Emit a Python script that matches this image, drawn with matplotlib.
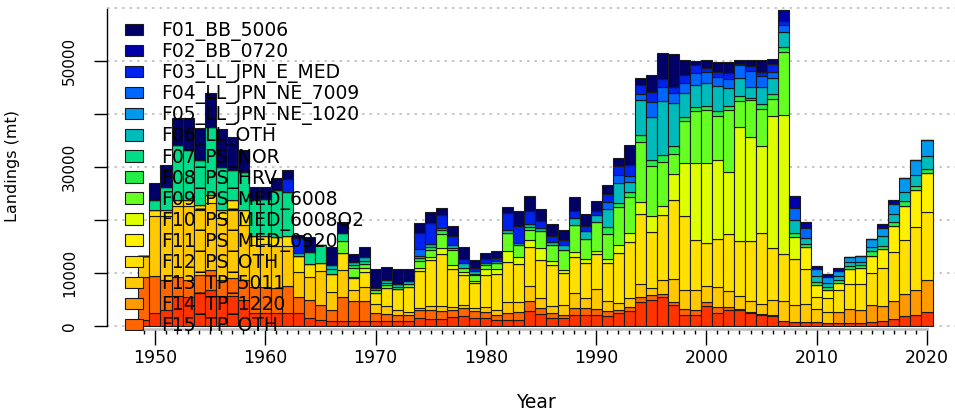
import matplotlib
matplotlib.use("Agg")
import matplotlib.pyplot as plt
from matplotlib.patches import Patch
import numpy as np

years = list(range(1949, 2021))

fleets = ["F01_BB_5006", "F02_BB_0720", "F03_LL_JPN_E_MED", "F04_LL_JPN_NE_7009",
          "F05_LL_JPN_NE_1020", "F06_LL_OTH", "F07_PS_NOR", "F08_PS_HRV",
          "F09_PS_MED_6008", "F10_PS_MED_6008Q2", "F11_PS_MED_0920", "F12_PS_OTH",
          "F13_TP_5011", "F14_TP_1220", "F15_TP_OTH", "F16"]

colors = ["#000066", "#0000AA", "#0022EE", "#0066FF", "#0099EE", "#00BBBB",
          "#00DD88", "#22EE44", "#66FF22", "#DDFF00", "#FFF000", "#FFE000",
          "#FFC800", "#FF9900", "#FF6600", "#FF3300"]

# landings (t) per fleet, 1949 | 1950s | 1960s | ... | 2010s | 2020
f01 = ([0] +
       [3200, 4000, 5100, 6000, 6000, 6400, 7200, 6200, 4200, 2500] +
       [2300, 2300, 1700, 600, 2800, 0, 3500, 2200, 1500, 1900] +
       [3600, 2600, 2800, 2300, 1800, 2100, 1500, 1900, 2300, 1600] +
       [1200, 1300, 1100, 2900, 2800, 2200, 2300, 1900, 2600, 2400] +
       [1900, 1600, 1600, 3800, 1300, 3200, 5000, 6300, 2700, 700] +
       [1400, 2000, 2200, 750, 1100, 2300, 900, 0, 0, 0] +
       [0] * 10 + [0])
f02 = ([0] + [0] * 10 + [0] * 10 + [0] * 10 + [0] * 10 + [0] * 10 +
       [0, 0, 0, 0, 0, 0, 0, 2200, 2200, 1200] +
       [600, 600, 450, 0, 0, 0, 800, 900, 0, 0] + [0])
f03 = ([0] + [0] * 10 +
       [0, 0, 2400, 2800, 0, 0, 0, 0, 0, 0] +
       [0, 0, 0, 0, 3000, 4000, 2300, 1700, 900, 600] +
       [600, 600, 3300, 3100, 2500, 1400, 1100, 1100, 1300, 900] +
       [800, 1600, 1700, 2100, 1600, 1900, 1500, 1100, 1600, 1500] +
       [900, 900, 1100, 300, 1100, 750, 1500, 800, 0, 0] +
       [0] * 10 + [0])
f04 = ([0] + [0] * 10 + [0] * 10 +
       [0, 0, 0, 0, 1300, 0, 0, 0, 0, 0] +
       [0] * 10 +
       [0, 1300, 1500, 1100, 1100, 2800, 2700, 2000, 1900, 2300] +
       [2000, 1800, 1700, 2400, 2900, 2100, 1200, 1300, 2200, 1900] +
       [0] * 10 + [0])
f05 = ([0] + [0] * 10 + [0] * 10 + [0] * 10 + [0] * 10 + [0] * 10 + [0] * 10 +
       [1300, 1000, 1100, 1100, 1100, 1500, 1600, 1900, 2700, 2900] + [3000])
f06 = ([0] + [0] * 10 +
       [0, 0, 0, 600, 0, 0, 700, 0, 600, 600] +
       [500, 500, 600, 600, 450, 500, 500, 400, 800, 400] +
       [0, 500, 500, 400, 500, 500, 600, 900, 1300, 1400] +
       [1300, 3500, 3600, 1900, 6700, 8200, 10100, 8100, 4500, 4100] +
       [4300, 4700, 3300, 3400, 2100, 3100, 3000, 2800, 2500, 1100] +
       [1100, 900, 750, 600, 600, 800, 1800, 1500, 1700, 1900] + [2500])
f07 = ([0] +
       [1900, 4500, 10400, 9400, 8500, 12800, 8100, 5700, 7200, 6900] +
       [7000, 8900, 8400, 0, 2300, 3400, 1000, 1500, 0, 600] +
       [0, 400, 0, 0, 0, 0, 0, 0, 0, 0] +
       [0] * 10 + [0] * 10 + [0] * 10 + [0] * 10 + [0])
f08 = ([0] + [0] * 10 +
       [0, 0, 0, 0, 0, 0, 0, 0, 500, 0] +
       [0, 0, 500, 0, 600, 600, 750, 500, 0, 300] +
       [500, 0, 0, 0, 500, 0, 0, 0, 0, 0] +
       [0, 1300, 900, 900, 1300, 1100, 1300, 1400, 800, 750] +
       [750, 900, 900, 1000, 450, 900, 900, 900, 750, 600] +
       [600, 500, 400, 600, 600, 800, 600, 750, 800, 900] + [750])
f09 = ([0] + [0] * 10 +
       [0, 0, 0, 0, 0, 0, 0, 2200, 1700, 750] +
       [500, 500, 0, 600, 1300, 1400, 2500, 2800, 800, 1100] +
       [750, 1000, 3500, 2200, 1900, 3300, 3100, 3800, 5200, 3800] +
       [5500, 4600, 7200, 6800, 11300, 9400, 8400, 3800, 7900, 9900] +
       [10100, 8200, 11600, 4800, 6900, 7000, 3100, 11900, 0, 0] +
       [0] * 10 + [0])
f10 = ([0] + [0] * 10 +
       [0, 0, 0, 0, 0, 0, 0, 0, 300, 800] +
       [0, 0, 0, 0, 600, 500, 1300, 800, 500, 400] +
       [1000, 900, 2100, 1400, 1400, 2200, 600, 500, 800, 900] +
       [600, 800, 1500, 1700, 2300, 3000, 1700, 4900, 9900, 14500] +
       [15000, 14900, 11800, 21600, 19700, 16400, 25000, 26200, 4200, 0] +
       [0] * 10 + [0])
f11 = ([0] + [0] * 10 + [0] * 10 + [0] * 10 + [0] * 10 + [0] * 10 +
       [0, 0, 0, 0, 0, 0, 0, 0, 0, 4100] +
       [2200, 1600, 1400, 2800, 3000, 3300, 3600, 4900, 6400, 6900] + [7200])
f12 = ([0] +
       [1000, 1000, 1100, 1100, 900, 1500, 1500, 1900, 2800, 1600] +
       [1500, 1700, 1800, 3000, 2500, 1500, 3300, 3300, 2200, 2800] +
       [2100, 3400, 3900, 4600, 6900, 8800, 9800, 7100, 5800, 4700] +
       [6200, 6800, 7500, 7100, 7300, 7200, 7900, 6000, 6900, 6500] +
       [6500, 7100, 9400, 10700, 13200, 10700, 12300, 15000, 14000, 9400] +
       [8100, 9200, 10700, 10300, 11300, 13400, 9700, 8800, 8600, 6700] +
       [2200, 2500, 4100, 4700, 4800, 6000, 7100, 9100, 10200, 12000] + [12900])
f13 = ([4100] +
       [11400, 12100, 13400, 14000, 12300, 12600, 11700, 12800, 10400, 7900] +
       [8000, 7900, 7500, 4700, 4200, 6400, 3500, 5000, 2000, 2600] +
       [1600, 1500, 900, 600, 400, 600, 900, 600, 500, 600] +
       [800, 1000, 2100, 1900, 2800, 1900, 1300, 1900, 2800, 1900] +
       [3800, 1900, 1200, 1700, 2500, 1300, 2500, 4200, 3600, 3800] +
       [3000, 3800, 3000, 2400, 2000, 1900, 3000, 3800, 3200, 3300] +
       [2500, 2100, 0, 0, 0, 0, 0, 0, 0, 0] + [0])
f14 = ([0] + [0] * 10 + [0] * 10 + [0] * 10 + [0] * 10 + [0] * 10 + [0] * 10 +
       [0, 0, 2200, 2700, 2500, 3200, 2800, 3500, 4200, 4600] + [6000])
f15 = ([8100] +
       [6900, 5700, 3600, 3200, 3400, 3800, 3000, 3400, 3800, 4900] +
       [4900, 4700, 5100, 3000, 3500, 2800, 2000, 4500, 3800, 3800] +
       [1500, 1300, 1100, 1100, 1500, 1800, 1500, 1300, 1500, 1300] +
       [1200, 900, 1300, 1600, 1900, 1100, 900, 600, 1300, 1300] +
       [1100, 1000, 600, 600, 800, 800, 600, 600, 1100, 900] +
       [800, 1100, 600, 300, 300, 200, 200, 0, 0, 0] +
       [0] * 10 + [0])
f16 = ([1100] +
       [2500, 3000, 5700, 5500, 6200, 6800, 5700, 5700, 4900, 2500] +
       [2500, 2500, 2500, 2500, 1500, 1100, 1000, 1000, 1000, 1000] +
       [1000, 1000, 1000, 1000, 1500, 1300, 1300, 1700, 1900, 1500] +
       [1500, 1200, 1100, 1100, 2900, 2300, 1500, 1500, 2100, 2100] +
       [2100, 1900, 2500, 2900, 4600, 5000, 5500, 4000, 2100, 2100] +
       [3800, 2400, 3000, 3000, 2400, 2100, 1800, 1000, 800, 800] +
       [800, 600, 500, 600, 600, 800, 1000, 1300, 1900, 2100] + [2700])

landings = [f01, f02, f03, f04, f05, f06, f07, f08, f09, f10, f11, f12, f13, f14, f15, f16]
for s in landings:
    assert len(s) == len(years)

y_ticks = [0, 10000, 20000, 30000, 40000, 50000]
y_labels = ["0", "10000", "", "30000", "", "50000"]
grid_levels = [0, 10000, 20000, 30000, 40000, 50000, 60000]
x_major = list(range(1950, 2021, 10))

fig = plt.figure(figsize=(9.55, 4.16), dpi=100)
ax = fig.add_axes([107 / 955, 85 / 416, 848 / 955, 331 / 416])

for lev in grid_levels:
    ax.axhline(lev, color="#BDBDBD", lw=1.2, ls=(0, (1.5, 3)), zorder=0)

# stack from the last fleet (bottom) to F01 (top)
bottom = np.zeros(len(years))
for vals, col in zip(landings[::-1], colors[::-1]):
    ax.bar(years, vals, bottom=bottom, width=1.0, color=col,
           edgecolor="#1a1a1a", linewidth=0.8, zorder=2)
    bottom += np.array(vals)

ax.set_xlim(1945.65, 2022.54)
ax.set_ylim(-943, 61509)

for side in ["top", "right"]:
    ax.spines[side].set_visible(False)
ax.spines["left"].set_bounds(0, 59800)
ax.spines["left"].set_linewidth(1.0)
ax.spines["bottom"].set_bounds(1949, 2020)
ax.spines["bottom"].set_color("#BBBBBB")
ax.spines["bottom"].set_linewidth(1.8)
ax.spines["bottom"].set_position(("outward", -1.5))

ax.set_yticks(y_ticks)
ax.set_yticklabels(y_labels, rotation=90, va="center", fontsize=11)
ax.tick_params(axis="y", length=9.4, width=1, pad=12, colors="black")

ax.set_xticks(x_major)
ax.set_xticklabels([str(x) for x in x_major], fontsize=12.5)
ax.set_xticks([y for y in years if y not in x_major], minor=True)
ax.tick_params(axis="x", which="major", length=11.5, width=1, pad=3, color="black")
ax.tick_params(axis="x", which="minor", length=3.6, width=1, color="black")

ax.set_ylabel("Landings (mt)", fontsize=11.5)
ax.yaxis.set_label_coords(-0.1026, 0.5)
ax.set_xlabel("Year", fontsize=13.5, va="center")
ax.xaxis.set_label_coords(0.506, -0.2175)

handles = [Patch(facecolor=c, edgecolor="#1a1a1a", linewidth=0.8) for c in colors[:15]]
leg = ax.legend(handles, fleets[:15], loc="upper left",
                bbox_to_anchor=(125 / 955, 1 - 21 / 416), bbox_transform=fig.transFigure,
                frameon=False, fontsize=13.5, handlelength=0.94, handleheight=0.57,
                handletextpad=1.0, labelspacing=0.058, borderpad=0, borderaxespad=0)
leg.set_zorder(5)
for t in leg.get_texts():
    t.set_clip_box(ax.bbox)
    t.set_clip_on(True)
for h in leg.legend_handles:
    h.set_clip_box(ax.bbox)
    h.set_clip_on(True)

fig.savefig("out.png", dpi=100)
